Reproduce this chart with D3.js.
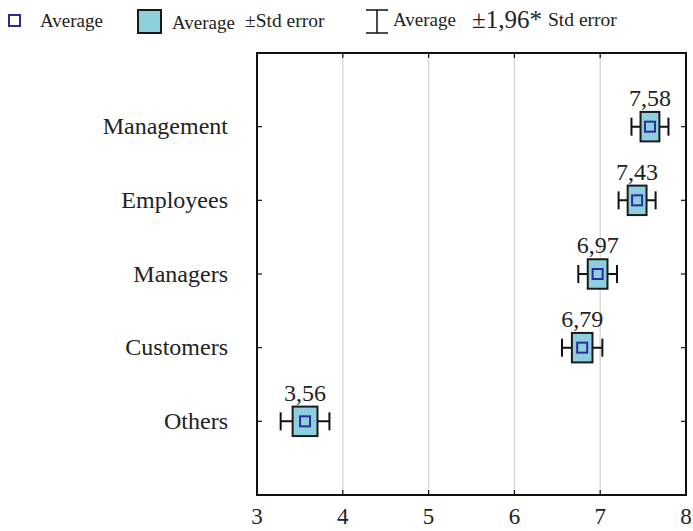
<!DOCTYPE html>
<html>
<head>
<meta charset="utf-8">
<script src="https://cdn.jsdelivr.net/npm/d3@7"></script>
<style>
  body { margin: 0; background: #fff; }
  svg text { font-family: "Liberation Serif", "Times New Roman", Times, serif; fill: #222; }
</style>
</head>
<body>
<div class="viz"></div>
<script>
// Data
const categories = ["Management", "Employees", "Managers", "Customers", "Others"];
const averages = [7.58, 7.43, 6.97, 6.79, 3.56];
const stdErrors = [0.11, 0.11, 0.115, 0.12, 0.145];
const xTicks = [3, 4, 5, 6, 7, 8];

const serif = "'Liberation Serif', 'Times New Roman', Times, serif";

const totalWidth = 693;
const totalHeight = 531;
const margin = { top: 53, right: 7, bottom: 36, left: 257 };
const width = totalWidth - margin.left - margin.right;
const height = totalHeight - margin.top - margin.bottom;

const svg = d3
  .select(".viz")
  .append("svg")
  .attr("width", totalWidth)
  .attr("height", totalHeight)
  .attr("font-family", serif);

const g = svg
  .append("g")
  .attr("transform", `translate(${margin.left},${margin.top})`);

// Scales
const xScale = d3.scaleLinear().domain([3, 8]).range([0, width]);
const yScale = d3.scaleLinear().domain([0, categories.length + 1]).range([0, height]);

// Grid lines
g.selectAll(".grid")
  .data(xTicks.slice(1, -1))
  .enter()
  .append("line")
  .attr("x1", (d) => xScale(d))
  .attr("x2", (d) => xScale(d))
  .attr("y1", 0)
  .attr("y2", height)
  .attr("stroke", "#d9d9d9")
  .attr("stroke-width", 1.5);

// X tick marks (bottom and top, inward)
g.selectAll(".xtick-b")
  .data(xTicks)
  .enter()
  .append("line")
  .attr("x1", (d) => xScale(d))
  .attr("x2", (d) => xScale(d))
  .attr("y1", height)
  .attr("y2", height - 5)
  .attr("stroke", "#111")
  .attr("stroke-width", 1.2);

g.selectAll(".xtick-t")
  .data(xTicks)
  .enter()
  .append("line")
  .attr("x1", (d) => xScale(d))
  .attr("x2", (d) => xScale(d))
  .attr("y1", 0)
  .attr("y2", 5)
  .attr("stroke", "#111")
  .attr("stroke-width", 1.2);

// X tick labels
g.selectAll(".xlabel")
  .data(xTicks)
  .enter()
  .append("text")
  .attr("x", (d) => xScale(d))
  .attr("y", height + 29)
  .attr("text-anchor", "middle")
  .style("font-family", serif)
  .style("font-size", "23px")
  .text((d) => d);

// Y tick marks (left and right, inward)
g.selectAll(".ytick-l")
  .data(categories)
  .enter()
  .append("line")
  .attr("x1", 0)
  .attr("x2", 5)
  .attr("y1", (d, i) => yScale(i + 1))
  .attr("y2", (d, i) => yScale(i + 1))
  .attr("stroke", "#111")
  .attr("stroke-width", 1.2);

g.selectAll(".ytick-r")
  .data(categories)
  .enter()
  .append("line")
  .attr("x1", width)
  .attr("x2", width - 5)
  .attr("y1", (d, i) => yScale(i + 1))
  .attr("y2", (d, i) => yScale(i + 1))
  .attr("stroke", "#111")
  .attr("stroke-width", 1.2);

// Category labels
g.selectAll(".ylabel")
  .data(categories)
  .enter()
  .append("text")
  .attr("x", -29)
  .attr("y", (d, i) => yScale(i + 1))
  .attr("dy", "0.32em")
  .attr("text-anchor", "end")
  .style("font-family", serif)
  .style("font-size", "24px")
  .text((d) => d);

// Frame
g.append("rect")
  .attr("x", 0)
  .attr("y", 0)
  .attr("width", width)
  .attr("height", height)
  .attr("fill", "none")
  .attr("stroke", "#111")
  .attr("stroke-width", 2);

const rows = categories.map((c, i) => ({
  cat: c,
  avg: averages[i],
  se: stdErrors[i],
  y: yScale(i + 1),
}));

const boxHalf = yScale(0.2) - yScale(0);
const capHalf = 9;

// Whiskers (±1.96 * SE)
rows.forEach((d) => {
  const x0 = xScale(d.avg - 1.96 * d.se);
  const x1 = xScale(d.avg + 1.96 * d.se);
  g.append("line")
    .attr("x1", x0).attr("x2", x1)
    .attr("y1", d.y).attr("y2", d.y)
    .attr("stroke", "#111").attr("stroke-width", 2);
  [x0, x1].forEach((x) => {
    g.append("line")
      .attr("x1", x).attr("x2", x)
      .attr("y1", d.y - capHalf).attr("y2", d.y + capHalf)
      .attr("stroke", "#111").attr("stroke-width", 2);
  });
});

// Boxes (±SE)
g.selectAll(".box")
  .data(rows)
  .enter()
  .append("rect")
  .attr("x", (d) => xScale(d.avg - d.se))
  .attr("y", (d) => d.y - boxHalf)
  .attr("width", (d) => xScale(d.avg + d.se) - xScale(d.avg - d.se))
  .attr("height", boxHalf * 2)
  .attr("fill", "#8ecfdd")
  .attr("stroke", "#1a1a1a")
  .attr("stroke-width", 2);

// Average markers
g.selectAll(".avg")
  .data(rows)
  .enter()
  .append("rect")
  .attr("x", (d) => xScale(d.avg) - 5)
  .attr("y", (d) => d.y - 5)
  .attr("width", 10)
  .attr("height", 10)
  .attr("fill", "none")
  .attr("stroke", "#2b2b9c")
  .attr("stroke-width", 2);

// Value labels
g.selectAll(".val")
  .data(rows)
  .enter()
  .append("text")
  .attr("x", (d) => xScale(d.avg))
  .attr("y", (d) => d.y - boxHalf - 6)
  .attr("text-anchor", "middle")
  .style("font-family", serif)
  .style("font-size", "24px")
  .text((d) => d.avg.toFixed(2).replace(".", ","));

// Legend
const legend = svg.append("g").style("font-family", serif);

legend.append("rect")
  .attr("x", 9).attr("y", 15).attr("width", 11).attr("height", 11)
  .attr("fill", "none").attr("stroke", "#2b2b9c").attr("stroke-width", 2);
legend.append("text").attr("x", 40).attr("y", 27)
  .style("font-size", "19px").text("Average");

legend.append("rect")
  .attr("x", 138).attr("y", 10).attr("width", 23).attr("height", 23)
  .attr("fill", "#8ecfdd").attr("stroke", "#1a1a1a").attr("stroke-width", 2);
legend.append("text").attr("x", 172).attr("y", 29)
  .style("font-size", "19px").text("Average");
legend.append("text").attr("x", 245).attr("y", 27)
  .style("font-size", "19.5px").text("±Std error");

legend.append("line")
  .attr("x1", 377).attr("x2", 377).attr("y1", 10).attr("y2", 33)
  .attr("stroke", "#111").attr("stroke-width", 1.5);
legend.append("line")
  .attr("x1", 366).attr("x2", 388).attr("y1", 10).attr("y2", 10)
  .attr("stroke", "#111").attr("stroke-width", 1.5);
legend.append("line")
  .attr("x1", 366).attr("x2", 388).attr("y1", 33).attr("y2", 33)
  .attr("stroke", "#111").attr("stroke-width", 1.5);
legend.append("text").attr("x", 393).attr("y", 26)
  .style("font-size", "19px").text("Average");
legend.append("text").attr("x", 472).attr("y", 28)
  .style("font-size", "25px").text("±1,96*");
legend.append("text").attr("x", 548).attr("y", 26)
  .style("font-size", "19.5px").text("Std error");
</script>
</body>
</html>
